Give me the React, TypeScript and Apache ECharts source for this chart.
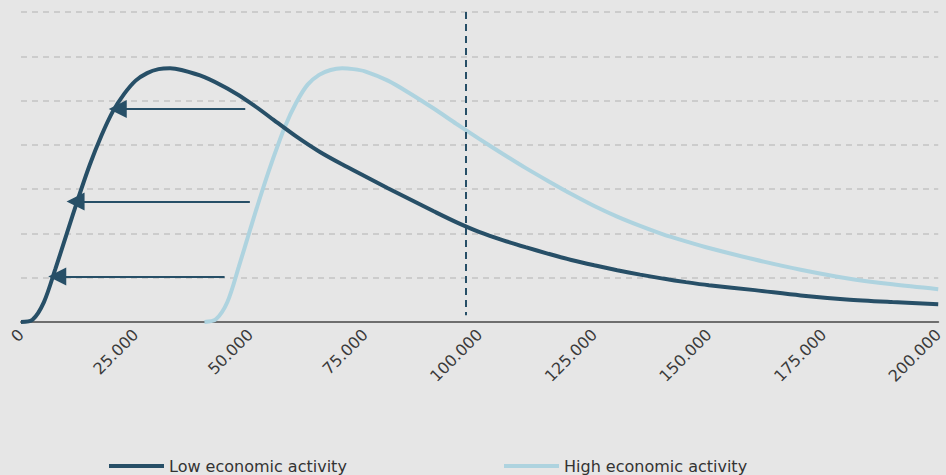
import React, { useEffect, useRef } from "react";
import * as echarts from "echarts";

const lowName = "Low economic activity";
const highName = "High economic activity";

const lowX = [0, 2500, 5000, 7500, 10000, 12500, 15000, 17500, 20000, 22500, 25000, 27500, 30000, 32500, 35000, 40000, 45000, 50000, 55000, 60000, 65000, 70000, 75000, 80000, 85000, 90000, 95000, 100000, 105000, 110000, 115000, 120000, 125000, 130000, 135000, 140000, 145000, 150000, 160000, 170000, 180000, 190000, 200000];
const lowY = [0, 0.05, 0.45, 1.2, 2.0, 2.8, 3.55, 4.2, 4.75, 5.15, 5.45, 5.62, 5.71, 5.73, 5.69, 5.53, 5.27, 4.95, 4.57, 4.19, 3.85, 3.56, 3.29, 3.02, 2.76, 2.5, 2.25, 2.03, 1.85, 1.69, 1.54, 1.4, 1.28, 1.17, 1.07, 0.98, 0.9, 0.83, 0.72, 0.6, 0.51, 0.45, 0.4];

const highX = [40000, 42500, 45000, 47500, 50000, 52500, 55000, 57500, 60000, 62500, 65000, 67500, 70000, 72500, 75000, 80000, 85000, 90000, 95000, 100000, 105000, 110000, 115000, 120000, 125000, 130000, 135000, 140000, 145000, 150000, 160000, 170000, 180000, 190000, 200000];
const highY = [0, 0.06, 0.45, 1.25, 2.1, 2.93, 3.7, 4.4, 4.95, 5.36, 5.58, 5.69, 5.73, 5.71, 5.66, 5.45, 5.15, 4.82, 4.47, 4.13, 3.8, 3.48, 3.18, 2.89, 2.62, 2.38, 2.17, 1.98, 1.82, 1.67, 1.41, 1.18, 0.99, 0.85, 0.74];

// arrows: [fromX, toX, y]
const arrows = [
  [48900, 21100, 4.81],
  [49900, 11900, 2.72],
  [44400, 7900, 1.03],
];
const markerX = 97000;

const xMin = 0;
const xMax = 200000;
const xStep = 25000;
const yMin = 0;
const yMax = 7;

const dark = "#274f67";
const light = "#aed3df";

function fmt(v: number) {
  return String(Math.round(v)).replace(/\B(?=(\d{3})+(?!\d))/g, ".");
}

export default function App() {
  const ref = useRef<HTMLDivElement>(null);
  useEffect(() => {
    if (!ref.current) return;
    const chart = echarts.init(ref.current, null, { renderer: "svg" });
    const font = "DejaVu Sans";
    chart.setOption({
      animation: false,
      backgroundColor: "#e6e6e6",
      grid: { left: 21, right: 4, top: 12, bottom: 153 },
      legend: [
        {
          data: [lowName],
          left: 104,
          top: 453,
          icon: "rect",
          itemWidth: 55,
          itemHeight: 4,
          textStyle: { fontFamily: font, fontSize: 16, color: "#333" },
          selectedMode: false,
        },
        {
          data: [highName],
          left: 499,
          top: 453,
          icon: "rect",
          itemWidth: 55,
          itemHeight: 4,
          textStyle: { fontFamily: font, fontSize: 16, color: "#333" },
          selectedMode: false,
        },
      ],
      xAxis: {
        type: "value",
        min: xMin,
        max: xMax,
        interval: xStep,
        axisLine: { show: true, lineStyle: { color: "#6e6e6e", width: 2 } },
        axisTick: { show: false },
        splitLine: { show: false },
        axisLabel: {
          rotate: 45,
          margin: 10,
          fontFamily: font,
          fontSize: 16,
          color: "#3a3a3a",
          formatter: (v: number) => fmt(v),
        },
      },
      yAxis: {
        type: "value",
        min: yMin,
        max: yMax,
        interval: 1,
        axisLine: { show: false },
        axisTick: { show: false },
        axisLabel: { show: false },
        splitLine: { show: true, lineStyle: { color: "#c4c4c4", width: 1.5, type: [6, 5] } },
      },
      series: [
        {
          name: lowName,
          type: "line",
          data: lowX.map((x, i) => [x, lowY[i]]),
          smooth: 0.3,
          showSymbol: false,
          lineStyle: { color: dark, width: 4 },
          itemStyle: { color: dark },
          z: 3,
          markLine: {
            silent: true,
            animation: false,
            label: { show: false },
            symbol: ["none", "triangle"],
            symbolSize: [18, 18],
            lineStyle: { color: dark, width: 2, type: "solid" },
            data: arrows.map((a) => [
              { coord: [a[0], a[2]] },
              { coord: [a[1], a[2]] },
            ]).concat([
              [
                { coord: [markerX, 7], symbol: "none", lineStyle: { type: [7, 5], width: 2, color: dark } } as any,
                { coord: [markerX, 0.15], symbol: "none" } as any,
              ],
            ]),
          },
        },
        {
          name: highName,
          type: "line",
          data: highX.map((x, i) => [x, highY[i]]),
          smooth: 0.3,
          showSymbol: false,
          lineStyle: { color: light, width: 4 },
          itemStyle: { color: light },
          z: 2,
        },
      ],
    });
    return () => chart.dispose();
  }, []);
  return (
    <div
      ref={ref}
      style={{ position: "fixed", left: 0, top: 0, width: 946, height: 475 }}
    />
  );
}
